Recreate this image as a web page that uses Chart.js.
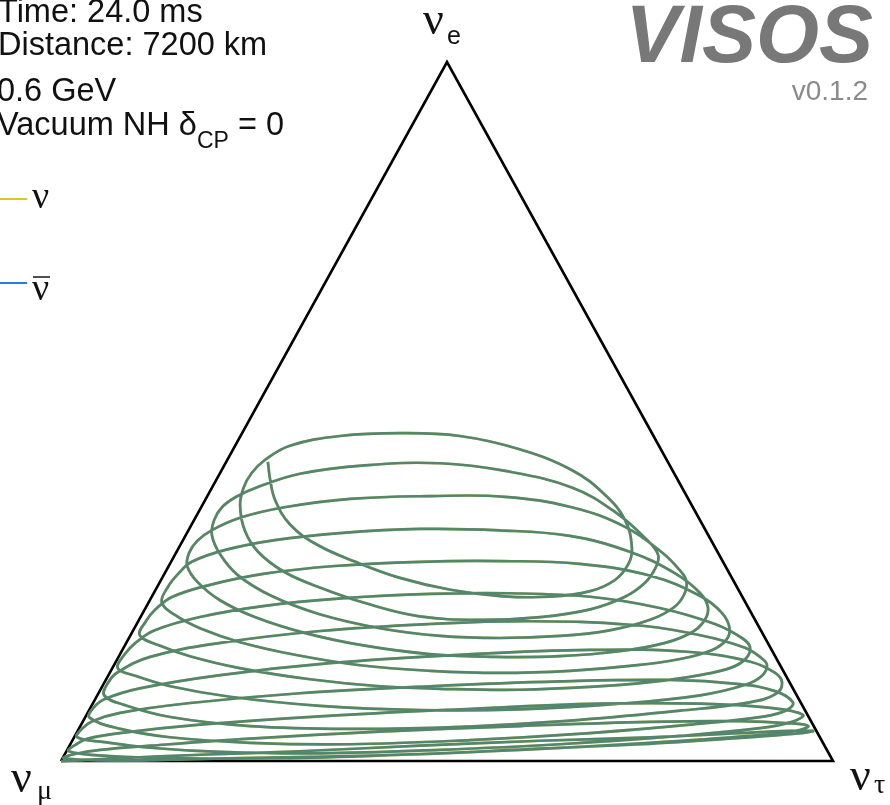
<!DOCTYPE html>
<html>
<head>
<meta charset="utf-8">
<script src="https://cdn.jsdelivr.net/npm/chart.js@4.4.1/dist/chart.umd.min.js"></script>
<style>
  html, body { margin: 0; padding: 0; background: #fff; overflow: hidden; }
  #wrap { position: relative; width: 890px; height: 805px; }
</style>
</head>
<body>
<div id="wrap"><canvas id="c" width="890" height="805"></canvas></div>
<script>
// Run settings shown in the corner
const infoLines = ['Time: 24.0 ms', 'Distance: 7200 km', '0.6 GeV'];
const modelText = ['Vacuum NH δ', 'CP', ' = 0'];
const seriesNames = ['ν', 'ν'];   // the second one gets a bar drawn over it

// νμ beam: probability to be found as νe and as ντ, sampled along 0 → 7200 km,
// one row per fast (atmospheric) oscillation cycle.
const probE = [
  [0, .004, .009, .014, .022, .029, .034, .040, .043, .043, .039, .033, .024, .017, .010, .006, .003, .001, .004],
  [.010, .016, .022, .032, .042, .050, .056, .057, .054, .050, .043, .036, .026, .016, .009, .004, .004, .007, .014],
  [.023, .032, .040, .052, .064, .074, .082, .082, .076, .066, .056, .047, .036, .024, .016, .011, .013, .019, .027, .034],
  [.046, .057, .069, .083, .097, .107, .114, .116, .110, .100, .084, .073, .064, .052, .040, .030, .024, .026, .034, .046, .062],
  [.076, .089, .104, .123, .140, .152, .159, .156, .142, .126, .112, .096, .084, .072, .059, .049, .046, .050, .063, .080, .094],
  [.112, .127, .149, .169, .186, .196, .200, .195, .180, .162, .147, .137, .122, .109, .094, .082, .074, .073, .079, .092, .107, .122, .133],
  [.152, .169, .187, .206, .222, .233, .239, .240, .235, .219, .196, .176, .163, .147, .134, .123, .113, .106, .102, .103, .107, .117, .133, .150, .165, .180],
  [.200, .217, .235, .252, .268, .279, .285, .286, .282, .265, .236, .212, .190, .173, .159, .146, .136, .129, .126, .129, .137, .152, .170, .190, .209, .227],
  [.249, .268, .285, .302, .316, .326, .332, .330, .322, .299, .268, .240, .220, .202, .185, .169, .157, .150, .149, .153, .165, .183, .206, .230, .256, .279],
  [.298, .315, .330, .348, .363, .375, .379, .378, .363, .335, .298, .273, .258, .239, .220, .202, .187, .179, .176, .179, .190, .210, .236, .266, .295, .323],
  [.345, .363, .378, .392, .411, .423, .426, .415, .391, .356, .319, .295, .275, .255, .235, .217, .206, .202, .207, .226, .248, .270, .299, .330, .366],
  [.391, .412, .431, .451, .465, .469, .465, .446, .416, .381, .345, .305, .282, .259, .243, .235, .236, .245, .262, .285, .309, .338, .373, .402, .428]
];
const probTau = [
  [0, .074, .176, .302, .454, .606, .746, .860, .923, .953, .932, .863, .738, .599, .460, .320, .179, .076, .002],
  [.013, .043, .105, .229, .392, .570, .735, .851, .917, .943, .929, .875, .750, .587, .435, .282, .152, .060, .003],
  [.007, .019, .056, .154, .303, .480, .657, .787, .881, .928, .919, .882, .784, .634, .483, .330, .200, .106, .043, .004],
  [.004, .012, .042, .126, .261, .424, .589, .731, .824, .875, .906, .904, .880, .789, .665, .515, .362, .232, .124, .054, .006],
  [.004, .013, .050, .145, .278, .441, .606, .737, .822, .862, .878, .878, .850, .766, .643, .493, .352, .220, .110, .043, .009],
  [.005, .010, .041, .122, .243, .380, .507, .640, .738, .805, .834, .846, .847, .832, .781, .683, .557, .429, .296, .173, .088, .035, .007],
  [.006, .012, .028, .077, .153, .251, .359, .461, .568, .666, .749, .794, .811, .814, .802, .766, .706, .632, .544, .452, .360, .264, .165, .092, .046, .012],
  [.010, .014, .027, .067, .130, .215, .323, .426, .531, .631, .710, .750, .771, .775, .764, .729, .669, .595, .506, .414, .319, .227, .147, .085, .043, .017],
  [.014, .018, .027, .062, .119, .198, .299, .403, .498, .588, .662, .708, .728, .733, .726, .698, .645, .571, .488, .401, .311, .225, .148, .091, .049, .024],
  [.017, .019, .030, .058, .108, .187, .288, .386, .480, .563, .630, .665, .681, .688, .684, .662, .617, .557, .481, .402, .318, .230, .155, .096, .059, .034],
  [.026, .027, .038, .059, .104, .182, .278, .368, .467, .540, .597, .626, .632, .629, .613, .577, .518, .442, .361, .281, .212, .155, .106, .073, .049],
  [.041, .041, .049, .071, .129, .205, .284, .371, .454, .514, .558, .587, .594, .588, .564, .516, .451, .382, .308, .239, .178, .128, .091, .070, .054]
];

// Corners of the diagram as (Pe, Pτ): νμ, ντ, νe
const cornerE   = [0, 0, 1];
const cornerTau = [0, 1, 0];

// ternary (Pe, Pτ) -> plane coordinates of an equal-sided layout
function toPlane(pe, ptau) { return { x: ptau + pe / 2, y: pe }; }

const path = [];
probE.forEach((row, i) => row.forEach((pe, j) => path.push(toPlane(pe, probTau[i][j]))));
const frame = cornerE.map((pe, i) => toPlane(pe, cornerTau[i]));
frame.push(frame[0]);

const sans = '"Liberation Sans", Arial, Helvetica, sans-serif';
const serif = '"Liberation Serif", "Times New Roman", serif';
const nuColor = 'rgb(222,200,30)';
const nubarColor = 'rgb(40,125,215)';

const overlay = {
  id: 'overlay',
  afterDraw(chart) {
    const ctx = chart.ctx;
    const sx = chart.scales.x, sy = chart.scales.y;
    ctx.save();
    ctx.textBaseline = 'alphabetic';
    ctx.fillStyle = '#111';

    // run info, top left
    ctx.font = '32.5px ' + sans;
    ctx.fillText(infoLines[0], -2, 22);
    ctx.fillText(infoLines[1], -2, 55);
    ctx.fillText(infoLines[2], -3, 101);
    let x = -3;
    ctx.fillText(modelText[0], x, 135);
    x += ctx.measureText(modelText[0]).width;
    ctx.font = '23px ' + sans;
    ctx.fillText(modelText[1], x, 148);
    x += ctx.measureText(modelText[1]).width;
    ctx.font = '32.5px ' + sans;
    ctx.fillText(modelText[2], x, 135);

    // legend
    ctx.lineWidth = 2;
    ctx.strokeStyle = nuColor;
    ctx.beginPath(); ctx.moveTo(0, 199); ctx.lineTo(27, 199); ctx.stroke();
    ctx.strokeStyle = nubarColor;
    ctx.beginPath(); ctx.moveTo(0, 283); ctx.lineTo(27, 283); ctx.stroke();
    ctx.font = '38px ' + serif;
    ctx.fillText(seriesNames[0], 32, 208);
    ctx.fillText(seriesNames[1], 32, 300);
    ctx.strokeStyle = '#222';
    ctx.lineWidth = 1.6;
    ctx.beginPath(); ctx.moveTo(33, 277); ctx.lineTo(50, 277); ctx.stroke();

    // corner labels
    const top = { x: sx.getPixelForValue(0.5), y: sy.getPixelForValue(1) };
    const left = { x: sx.getPixelForValue(0), y: sy.getPixelForValue(0) };
    const right = { x: sx.getPixelForValue(1), y: sy.getPixelForValue(0) };
    ctx.font = '46px ' + serif;
    ctx.fillText('ν', top.x - 24, top.y - 28);
    ctx.fillText('ν', left.x - 50, left.y + 31);
    ctx.fillText('ν', right.x + 17, right.y + 29);
    ctx.font = '25px ' + sans;
    ctx.fillText('e', top.x, top.y - 18);
    ctx.font = '28px ' + serif;
    ctx.fillText('μ', left.x - 24, left.y + 38);
    ctx.fillText('τ', right.x + 41, right.y + 32);

    // badge, top right
    ctx.textAlign = 'right';
    ctx.fillStyle = '#787878';
    ctx.font = 'italic bold 81px ' + sans;
    ctx.fillText('VISOS', 873, 62);
    ctx.fillStyle = '#8a8a8a';
    ctx.font = '28px ' + sans;
    ctx.fillText('v0.1.2', 868, 100);
    ctx.restore();
  }
};

new Chart(document.getElementById('c'), {
  type: 'scatter',
  data: {
    datasets: [
      { label: 'frame', data: frame, showLine: true, borderColor: '#000', borderWidth: 2.6,
        pointRadius: 0, tension: 0, order: 3, borderJoinStyle: 'miter' },
      { label: 'nu', data: path, showLine: true, borderColor: 'rgb(210,195,40)',
        borderWidth: 2.7, pointRadius: 0, tension: 0.4, order: 2 },
      { label: 'nubar', data: path, showLine: true, borderColor: 'rgba(47,116,131,0.78)',
        borderWidth: 2.7, pointRadius: 0, tension: 0.4, order: 1 }
    ]
  },
  options: {
    responsive: false,
    animation: false,
    devicePixelRatio: 1,
    layout: { padding: 0 },
    plugins: { legend: { display: false }, tooltip: { enabled: false } },
    scales: {
      x: { type: 'linear', display: false, min: -0.0790, max: 1.0738 },
      y: { type: 'linear', display: false, min: -0.0629, max: 1.0887 }
    }
  },
  plugins: [overlay]
});
</script>
</body>
</html>
